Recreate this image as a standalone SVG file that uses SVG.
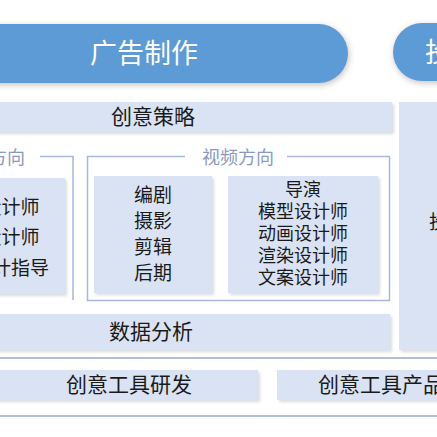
<svg xmlns="http://www.w3.org/2000/svg" width="437" height="437" viewBox="0 0 437 437">
<style>
text{font-family:"Noto Sans CJK SC","Noto Sans",sans-serif;fill:#1a1a1a;text-anchor:middle}
.pill{fill:#5b9bd5}
.pt{fill:#ffffff;font-size:27px}
.box{fill:#dae3f3}
.t21{font-size:21px}
.t19{font-size:19px}
.t18{font-size:18px}
.grp{fill:none;stroke:#a9b7dc;stroke-width:1.5}
.gt{fill:#8a9bbd;font-size:18px}
.hl{stroke:#b3c0dc;stroke-width:2}
</style>
<defs>
<filter id="ps" x="-20%" y="-40%" width="140%" height="180%">
<feDropShadow dx="1" dy="2" stdDeviation="3" flood-color="#b0a8a0" flood-opacity="0.7"/>
</filter>
<filter id="bs" x="-10%" y="-10%" width="120%" height="130%">
<feDropShadow dx="2" dy="2" stdDeviation="1.5" flood-color="#c8ccd4" flood-opacity="0.7"/>
</filter>
</defs>
<rect width="437" height="437" fill="#ffffff"/>
<g id="connectors">
<line class="hl" x1="0" y1="358" x2="437" y2="358"/>
<line class="hl" x1="0" y1="416" x2="437" y2="416"/>
</g>
<g id="header-ad">
<rect class="pill" x="-40" y="24" width="388" height="59" rx="29.5" filter="url(#ps)"/>
<text class="pt" x="144" y="63">广告制作</text>
</g>
<g id="header-next">
<rect class="pill" x="393" y="23" width="100" height="58" rx="29" filter="url(#ps)"/>
<text class="pt" x="425" y="62" style="text-anchor:start">投</text>
</g>
<g id="strategy">
<rect class="box" x="-10" y="102" width="402" height="30" filter="url(#bs)"/>
<text class="t21" x="153" y="124">创意策略</text>
</g>
<g id="right-column">
<rect class="box" x="399" y="102" width="60" height="248" filter="url(#bs)"/>
<text class="t19" x="429" y="229" style="text-anchor:start">投</text>
</g>
<g id="image-group">
<path class="grp" d="M40 156.5H73V300"/>
<text class="gt" x="-11" y="164">平面方向</text>
<rect class="box" x="-20" y="178" width="85" height="116" filter="url(#bs)"/>
<text class="t19" x="-8" y="214">平面设计师</text>
<text class="t19" x="-8" y="244">交互设计师</text>
<text class="t19" x="-8" y="275">平面设计指导</text>
</g>
<g id="video-group">
<path class="grp" d="M185 156.5H87.5V300.5H389.5V156.5H287"/>
<text class="gt" x="238" y="164">视频方向</text>
</g>
<g id="video-basic">
<rect class="box" x="94" y="176" width="118" height="117" filter="url(#bs)"/>
<text class="t19" x="153" y="202">编剧</text>
<text class="t19" x="153" y="228">摄影</text>
<text class="t19" x="153" y="254">剪辑</text>
<text class="t19" x="153" y="280">后期</text>
</g>
<g id="video-roles">
<rect class="box" x="228" y="176" width="150" height="117" filter="url(#bs)"/>
<text class="t18" x="303" y="196">导演</text>
<text class="t18" x="303" y="218">模型设计师</text>
<text class="t18" x="303" y="240">动画设计师</text>
<text class="t18" x="303" y="262">渲染设计师</text>
<text class="t18" x="303" y="284">文案设计师</text>
</g>
<g id="data">
<rect class="box" x="-10" y="314" width="400" height="36" filter="url(#bs)"/>
<text class="t21" x="151" y="339">数据分析</text>
</g>
<g id="tool-dev">
<rect class="box" x="-10" y="370" width="268" height="30" filter="url(#bs)"/>
<text class="t21" x="129" y="392">创意工具研发</text>
</g>
<g id="tool-product">
<rect class="box" x="277" y="370" width="180" height="30" filter="url(#bs)"/>
<text class="t21" x="318" y="392" style="text-anchor:start">创意工具产品</text>
</g>
</svg>
